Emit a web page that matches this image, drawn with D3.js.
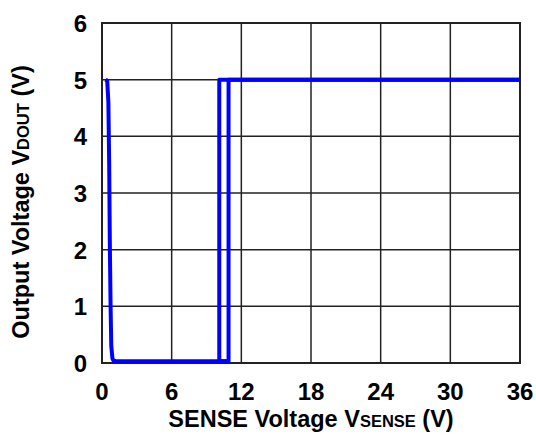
<!DOCTYPE html>
<html><head><meta charset="utf-8">
<script src="https://cdn.jsdelivr.net/npm/d3@7"></script>
<style>body{margin:0;background:#fff}svg{display:block}text{font-family:"Liberation Sans",Arial,sans-serif;font-weight:bold;fill:#000}</style>
</head><body><svg id="c" width="536" height="435"></svg>
<script>
const xTicks=[0,6,12,18,24,30,36];
const yTicks=[0,1,2,3,4,5,6];
// rising sweep (VSENSE increasing): output goes high at ~10.9 V
const riseX=[0.3,0.45,0.55,0.62,0.68,0.74,0.8,0.9,1.0,1.2,10.9,10.9,36];
const riseY=[5.0,4.98,4.6,3.5,2.0,1.0,0.3,0.08,0.04,0.03,0.03,5.0,5.0];
// falling sweep (VSENSE decreasing): output goes low at ~10.1 V
const fallX=[36,10.1,10.1,10.9];
const fallY=[5.0,5.0,0.03,0.03];

const svg=d3.select("#c");
const L=102,R=520,T=23,B=363;
const x=d3.scaleLinear().domain([0,36]).range([L,R]);
const y=d3.scaleLinear().domain([0,6]).range([B,T]);

const g=svg.append("g");
g.selectAll("line.v").data(xTicks).join("line").attr("x1",d=>x(d)).attr("x2",d=>x(d)).attr("y1",T).attr("y2",B).attr("stroke","#222").attr("stroke-width",1.5);
g.selectAll("line.h").data(yTicks).join("line").attr("y1",d=>y(d)).attr("y2",d=>y(d)).attr("x1",L).attr("x2",R).attr("stroke","#222").attr("stroke-width",1.5);
g.append("rect").attr("x",L).attr("y",T).attr("width",R-L).attr("height",B-T).attr("fill","none").attr("stroke","#222").attr("stroke-width",2);

const lineL=d3.line().x(d=>x(d[0])).y(d=>y(d[1]));
svg.append("path").attr("d",lineL(fallX.map((v,i)=>[v,fallY[i]]))).attr("fill","none").attr("stroke","#0000ff").attr("stroke-width",4).attr("stroke-linejoin","round");
svg.append("path").attr("d",lineL(riseX.map((v,i)=>[v,riseY[i]]))).attr("fill","none").attr("stroke","#0000ff").attr("stroke-width",4).attr("stroke-linejoin","round");

svg.selectAll("text.xt").data(xTicks).join("text").attr("x",d=>x(d)).attr("y",400).attr("text-anchor","middle").attr("font-size",24).text(d=>d);
svg.selectAll("text.yt").data(yTicks).join("text").attr("x",87).attr("y",d=>y(d)+9).attr("text-anchor","end").attr("font-size",24).text(d=>d);

const xt=svg.append("text").attr("x",311).attr("y",427).attr("text-anchor","middle").attr("font-size",23.5);
xt.append("tspan").text("SENSE Voltage V");
xt.append("tspan").attr("font-size",16.5).text("SENSE");
xt.append("tspan").text(" (V)");

const yt=svg.append("text").attr("transform","translate(29,202) rotate(-90)").attr("text-anchor","middle").attr("font-size",23.5);
yt.append("tspan").text("Output Voltage V");
yt.append("tspan").attr("font-size",16.5).text("DOUT");
yt.append("tspan").text(" (V)");
</script></body></html>
